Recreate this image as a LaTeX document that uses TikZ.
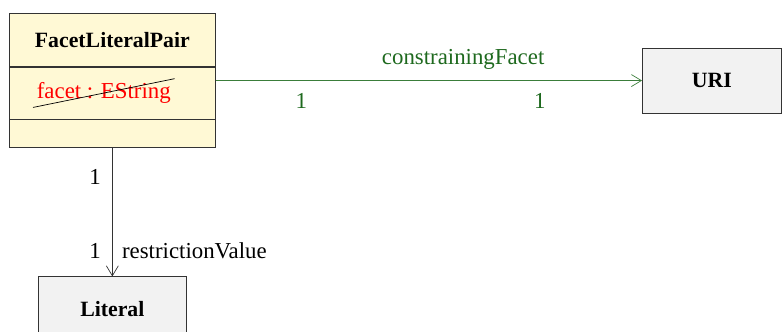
\documentclass[tikz,border=0pt]{standalone}
\usepackage{fontspec}
\setmainfont{Liberation Serif}
\usetikzlibrary{arrows.meta, positioning, fit}

\definecolor{classyellow}{RGB}{255,249,213}
\definecolor{classgray}{RGB}{242,242,242}
\definecolor{assocgreen}{RGB}{58,125,58}
\definecolor{labelgreen}{RGB}{30,105,30}

\begin{document}
\begin{tikzpicture}[
    font=\fontsize{13}{15}\selectfont,
    part/.style={rectangle, draw=black!80, fill=classyellow, minimum width=4.12cm, inner sep=0pt, font=\fontsize{12.4}{15}\selectfont\bfseries},
    classbox/.style={rectangle, draw=black!80, fill=classgray, font=\fontsize{12.4}{15}\selectfont\bfseries},
    arrow/.style={-{Straight Barb[length=2mm, width=2.4mm]}, thin},
]

\useasboundingbox (0,0) rectangle (15.64,-6.64);

% Class with three compartments
\node[part, minimum height=1.06cm, anchor=north west] (header) at (0.18,-0.26) {FacetLiteralPair};
\node[part, minimum height=1.04cm, below=0cm of header] (attrs) {};
\node[part, minimum height=0.56cm, below=0cm of attrs] (ops) {};
\node[inner sep=0pt, fit=(header)(ops)] (pair) {};

% Struck-out attribute
\node[text=red, inner sep=2pt, right=0.48cm of attrs.west] (facet) {facet : EString};
\draw (facet.south west) -- (facet.north east);

% Target classes
\node[classbox, minimum width=2.78cm, minimum height=1.3cm, right=8.52cm of pair] (uri) {URI};
\node[classbox, minimum width=2.96cm, minimum height=1.28cm, below=2.56cm of pair] (literal) {Literal};

% Associations
\draw[arrow, assocgreen] (pair) -- node[pos=0.58, above=3pt, text=labelgreen] {constrainingFacet}
    node[pos=0.2, below=4pt, text=labelgreen] {1}
    node[pos=0.76, below=4pt, text=labelgreen] {1} (uri);
\draw[arrow, black!80] (pair) -- node[pos=0.22, left=3pt, text=black] {1}
    node[pos=0.8, left=3pt, text=black] {1}
    node[pos=0.8, right=2pt, text=black] {restrictionValue} (literal);

\end{tikzpicture}
\end{document}
